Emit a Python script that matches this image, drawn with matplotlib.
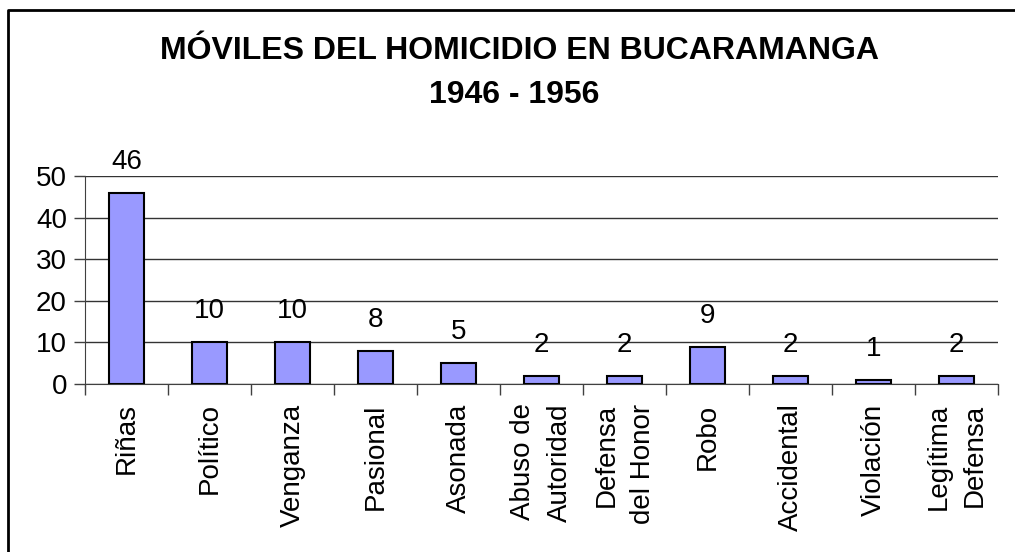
import matplotlib
matplotlib.use('Agg')
import matplotlib.pyplot as plt
from matplotlib.lines import Line2D

# datos del grafico
categorias = ['Riñas', 'Político', 'Venganza', 'Pasional', 'Asonada',
              'Abuso de\nAutoridad', 'Defensa\ndel Honor', 'Robo',
              'Accidental', 'Violación', 'Legítima\nDefensa']
casos = [46, 10, 10, 8, 5, 2, 2, 9, 2, 1, 2]
yticks = [0, 10, 20, 30, 40, 50]

plt.rcParams['font.family'] = ['Liberation Sans', 'DejaVu Sans']

fig = plt.figure(figsize=(10.15, 5.52), dpi=100)
W, H = 1015, 552
# ejes en pixeles: izq 85, der 998, y0=384, y50=176
ax = fig.add_axes([85 / W, 1 - 384 / H, 913 / W, 208 / H])

x = list(range(len(casos)))
ax.bar(x, casos, width=0.41, color='#9999FF', edgecolor='black', linewidth=1.5, zorder=3)

for xi, v in zip(x, casos):
    ax.annotate(str(v), (xi, v), xytext=(0, 13), textcoords='offset points',
                ha='center', va='bottom', fontsize=20, color='black')

ax.set_xlim(-0.5, len(casos) - 0.5)
ax.set_ylim(0, 50)
ax.set_yticks(yticks)
ax.set_yticklabels([str(t) for t in yticks], fontsize=20)
ax.yaxis.grid(True, color='#333333', linewidth=1, zorder=0)
ax.set_axisbelow(True)

# marcas del eje x entre categorias
ax.set_xticks([i - 0.5 for i in range(len(casos) + 1)])
ax.set_xticklabels([])
ax.set_xticks(x, minor=True)
ax.set_xticklabels(categorias, minor=True, rotation=90, fontsize=20,
                   ha='center', va='top', multialignment='right', linespacing=1.5)
ax.tick_params(axis='x', which='minor', length=0, pad=14)
ax.tick_params(axis='x', which='major', length=8, direction='out', color='#404040', width=1)
ax.tick_params(axis='y', length=8, direction='out', color='#404040', width=1, pad=5)

for s in ['top', 'right']:
    ax.spines[s].set_visible(False)
ax.spines['left'].set_color('#404040')
ax.spines['bottom'].set_color('#404040')

fig.text(520 / W, 1 - 59 / H, 'MÓVILES DEL HOMICIDIO EN BUCARAMANGA', ha='center', va='baseline',
         fontsize=23, fontweight='bold')
fig.text(514 / W, 1 - 103 / H, '1946 - 1956', ha='center', va='baseline',
         fontsize=23, fontweight='bold')

# marco del grafico (solo se ven borde izquierdo y superior)
fig.lines.append(Line2D([8 / W, 8 / W, 1.0], [0.0, 1 - 10 / H, 1 - 10 / H],
                        transform=fig.transFigure, color='black', linewidth=2))

fig.savefig('out.png', dpi=100)
